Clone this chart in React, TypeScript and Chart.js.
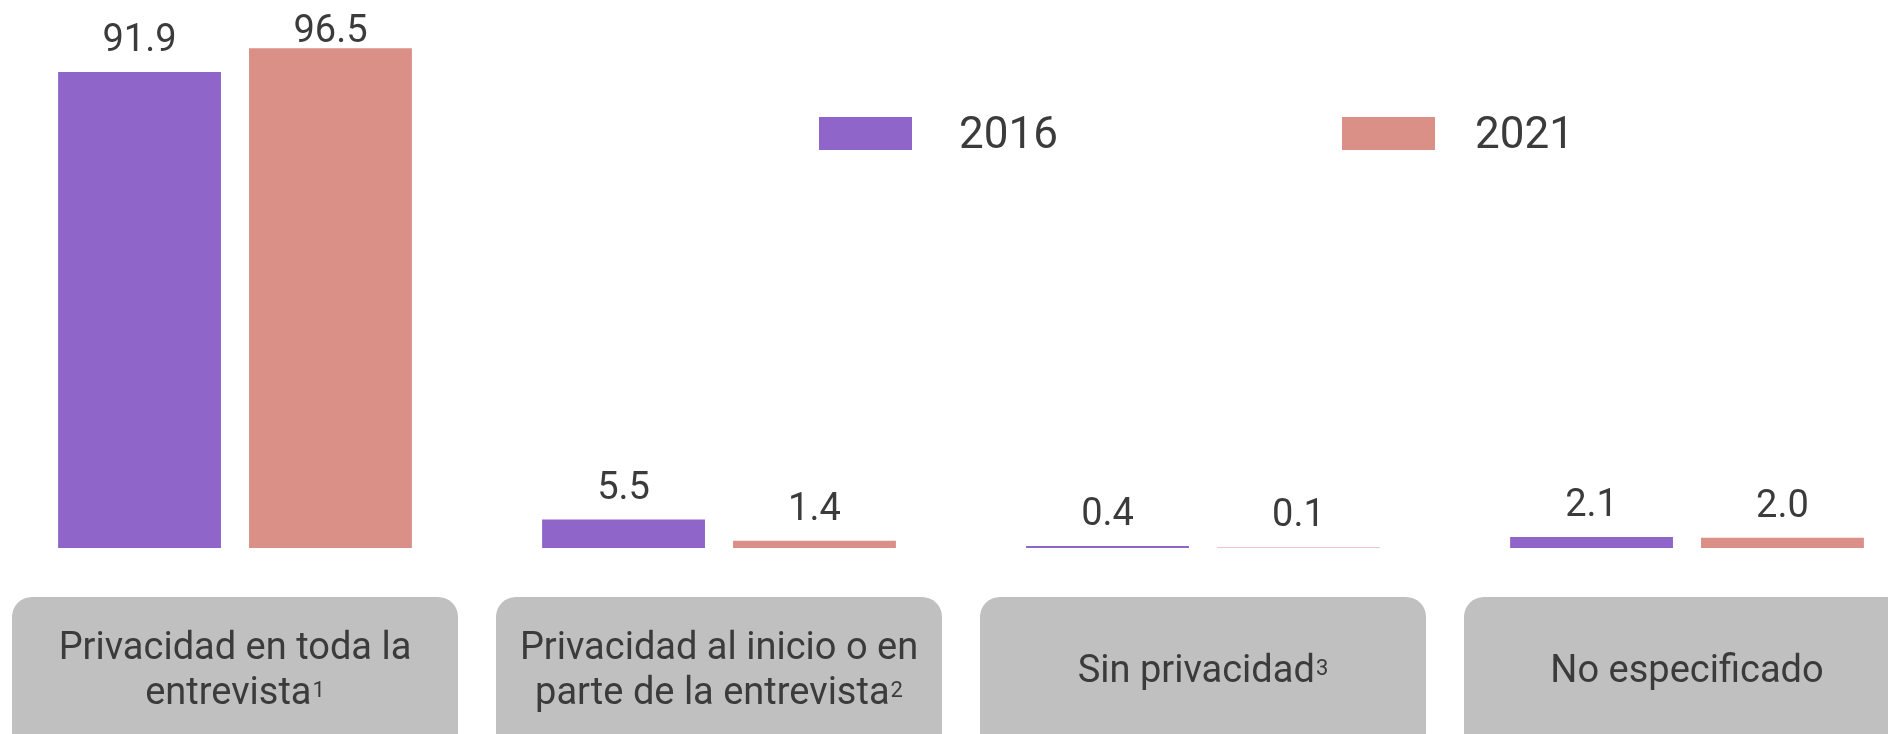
import React, { useEffect, useRef } from "react";
import { Chart, registerables } from "chart.js";

Chart.register(...registerables);

// ---- data ----
const categories: string[][] = [
  ["Privacidad en toda la", "entrevista¹"],
  ["Privacidad al inicio o en", "parte de la entrevista²"],
  ["Sin privacidad³"],
  ["No especificado"],
];
const seriesNames: string[] = ["2016", "2021"];
const values2016: number[] = [91.9, 5.5, 0.4, 2.1];
const values2021: number[] = [96.5, 1.4, 0.1, 2.0];
const seriesColors: string[] = ["#9065c9", "#da8f87"];

const TEXT = "#3b3b3b";
const FONT = "Roboto, 'Noto Sans', sans-serif";
const SUP_MAP: Record<string, string> = { "¹": "1", "²": "2", "³": "3" };

function drawLineWithSup(ctx: CanvasRenderingContext2D, text: string, cx: number, y: number) {
  const last = text.charAt(text.length - 1);
  const mainFont = `38px ${FONT}`;
  const supFont = `22px ${FONT}`;
  ctx.textAlign = "left";
  ctx.textBaseline = "alphabetic";
  if (SUP_MAP[last]) {
    const main = text.slice(0, -1);
    const sup = SUP_MAP[last];
    ctx.font = mainFont;
    const wm = ctx.measureText(main).width;
    ctx.font = supFont;
    const ws = ctx.measureText(sup).width;
    const x0 = cx - (wm + ws + 1) / 2;
    ctx.font = mainFont;
    ctx.fillText(main, x0, y);
    ctx.font = supFont;
    ctx.fillText(sup, x0 + wm + 1, y - 7);
  } else {
    ctx.font = mainFont;
    const wm = ctx.measureText(text).width;
    ctx.fillText(text, cx - wm / 2, y);
  }
}

const valueLabelPlugin = {
  id: "valueLabels",
  afterDatasetsDraw(chart: any) {
    const ctx = chart.ctx;
    ctx.save();
    ctx.font = `38px ${FONT}`;
    ctx.fillStyle = TEXT;
    ctx.textAlign = "center";
    ctx.textBaseline = "alphabetic";
    chart.data.datasets.forEach((ds: any, di: number) => {
      const meta = chart.getDatasetMeta(di);
      meta.data.forEach((el: any, i: number) => {
        const v = ds.data[i] as number;
        const y = Math.max(el.y - 21, 42);
        ctx.fillText(v.toFixed(1), el.x, y);
      });
    });
    ctx.restore();
  },
};

const categoryBoxPlugin = {
  id: "categoryBoxes",
  afterDraw(chart: any) {
    const ctx = chart.ctx;
    const xs = chart.scales.x;
    ctx.save();
    (chart.data.labels as string[][]).forEach((lines, i) => {
      const cx = xs.getPixelForValue(i);
      const w = 446;
      ctx.fillStyle = "#c0c0c0";
      ctx.beginPath();
      (ctx as any).roundRect(cx - w / 2, 597, w, 200, 20);
      ctx.fill();
      ctx.fillStyle = TEXT;
      if (lines.length === 2) {
        drawLineWithSup(ctx, lines[0], cx, 659);
        drawLineWithSup(ctx, lines[1], cx, 704);
      } else {
        drawLineWithSup(ctx, lines[0], cx, 682);
      }
    });
    ctx.restore();
  },
};

const legendPlugin = {
  id: "customLegend",
  afterDraw(chart: any) {
    const ctx = chart.ctx;
    const boxX = [819, 1342];
    const textX = [959, 1475];
    ctx.save();
    chart.data.datasets.forEach((ds: any, i: number) => {
      ctx.fillStyle = ds.backgroundColor;
      ctx.fillRect(boxX[i], 117, 93, 33);
      ctx.fillStyle = TEXT;
      ctx.font = `44px ${FONT}`;
      ctx.textAlign = "left";
      ctx.textBaseline = "alphabetic";
      ctx.fillText(ds.label, textX[i], 148);
    });
    ctx.restore();
  },
};

export default function App() {
  const ref = useRef<HTMLCanvasElement>(null);
  useEffect(() => {
    if (!ref.current) return;
    const chart = new Chart(ref.current, {
      type: "bar",
      data: {
        labels: categories as any,
        datasets: [
          {
            label: seriesNames[0],
            data: values2016,
            backgroundColor: seriesColors[0],
            borderWidth: 0,
          },
          {
            label: seriesNames[1],
            data: values2021,
            backgroundColor: seriesColors[1],
            borderWidth: 0,
          },
        ],
      },
      options: {
        responsive: false,
        animation: false,
        devicePixelRatio: 1,
        layout: { padding: { left: 235, right: 201, top: 30, bottom: 186 } },
        datasets: {
          bar: { categoryPercentage: 0.789, barPercentage: 0.853, clip: false as any },
        },
        scales: {
          x: { type: "category", offset: false, display: false },
          y: { min: 0, max: 100, display: false },
        },
        plugins: {
          legend: { display: false },
          tooltip: { enabled: false },
        },
      },
      plugins: [valueLabelPlugin, categoryBoxPlugin, legendPlugin],
    });
    return () => chart.destroy();
  }, []);
  return (
    <canvas
      ref={ref}
      width={1888}
      height={734}
      style={{ position: "absolute", left: 0, top: 0, width: 1888, height: 734 }}
    />
  );
}
